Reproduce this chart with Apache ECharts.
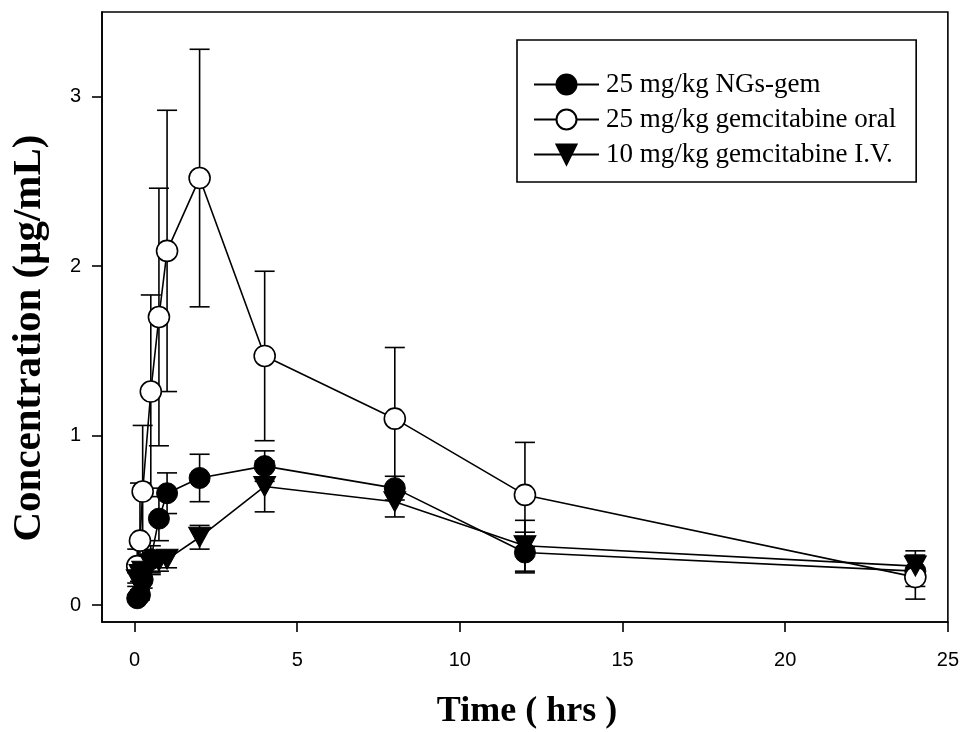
<!DOCTYPE html>
<html>
<head>
<meta charset="utf-8">
<script src="https://cdn.jsdelivr.net/npm/echarts@6/dist/echarts.min.js"></script>
<style>
html,body{margin:0;padding:0;background:#fff;}
#chart{width:962px;height:732px;}
</style>
</head>
<body>
<div id="chart"></div>
<script>
// ---- data ----
const times = [0.083, 0.167, 0.25, 0.5, 0.75, 1, 2, 4, 8, 12, 24];
const ngMean   = [0.04, 0.06, 0.15, 0.27, 0.51, 0.66, 0.75, 0.82, 0.69, 0.31, 0.20];
const ngErr    = [0.02, 0.03, 0.05, 0.08, 0.13, 0.12, 0.14, 0.09, 0.07, 0.12, 0.09];
const oralMean = [0.23, 0.38, 0.67, 1.26, 1.70, 2.09, 2.52, 1.47, 1.10, 0.65, 0.165];
const oralErr  = [0.10, 0.34, 0.39, 0.57, 0.76, 0.83, 0.76, 0.50, 0.42, 0.31, 0.13];
const ivMean   = [0.15, 0.18, 0.20, 0.24, 0.26, 0.27, 0.40, 0.70, 0.61, 0.35, 0.23];
const ivErr    = [0.04, 0.04, 0.05, 0.06, 0.06, 0.05, 0.07, 0.15, 0.09, 0.15, 0.09];
const seriesNames = ['25 mg/kg NGs-gem', '25 mg/kg gemcitabine oral', '10 mg/kg gemcitabine I.V.'];
const xTicks = [0, 5, 10, 15, 20, 25];
const yTicks = [0, 1, 2, 3];
const xTitle = 'Time ( hrs )';
const yTitle = 'Concentration (μg/mL)';

const pts = (m) => times.map((t, i) => [t, m[i]]);
const errPts = (m, e) => times.map((t, i) => [t, m[i] - e[i], m[i] + e[i]]);

function errRender(params, api) {
  const x = api.value(0), lo = api.value(1), hi = api.value(2);
  const a = api.coord([x, hi]), b = api.coord([x, lo]);
  const hw = 10;
  const st = {stroke: '#000', lineWidth: 1.6};
  return {type: 'group', children: [
    {type: 'line', shape: {x1: a[0], y1: a[1], x2: b[0], y2: b[1]}, style: st},
    {type: 'line', shape: {x1: a[0] - hw, y1: a[1], x2: a[0] + hw, y2: a[1]}, style: st},
    {type: 'line', shape: {x1: b[0] - hw, y1: b[1], x2: b[0] + hw, y2: b[1]}, style: st}
  ]};
}

const chart = echarts.init(document.getElementById('chart'), null, {renderer: 'canvas'});
const axisFont = {fontFamily: 'Liberation Sans', fontSize: 20, color: '#000'};
const lineStyle = {color: '#000', width: 1.6};

chart.setOption({
  animation: false,
  backgroundColor: '#fff',
  grid: {left: 102, right: 11, top: 12, bottom: 110, show: true, borderColor: '#000', borderWidth: 1.6, backgroundColor: 'transparent'},
  xAxis: {
    type: 'value', min: -1, max: 25,
    axisLine: {show: true, onZero: false, lineStyle: {color: '#000', width: 1.6}},
    axisTick: {show: true, length: 10, lineStyle: {color: '#000', width: 1.6}, customValues: xTicks},
    axisLabel: Object.assign({margin: 28, customValues: xTicks}, axisFont),
    splitLine: {show: false}
  },
  yAxis: {
    type: 'value', min: -0.1, max: 3.5,
    axisLine: {show: true, onZero: false, lineStyle: {color: '#000', width: 1.6}},
    axisTick: {show: true, length: 10, lineStyle: {color: '#000', width: 1.6}, customValues: yTicks},
    axisLabel: Object.assign({margin: 21, customValues: yTicks}, axisFont),
    splitLine: {show: false}
  },
  legend: {
    orient: 'vertical', left: 517, top: 40,
    padding: [31, 20, 14, 16],
    itemWidth: 65, itemHeight: 25, itemGap: 8,
    borderColor: '#000', borderWidth: 1.6, borderRadius: 0,
    backgroundColor: '#fff',
    textStyle: {fontFamily: 'Liberation Serif', fontSize: 27, color: '#000', padding: [0, 0, 0, 2]},
    data: seriesNames
  },
  graphic: [
    {type: 'text', x: 527, y: 712, style: {text: xTitle, font: 'bold 36px "Liberation Serif"', fill: '#000', align: 'center', verticalAlign: 'middle'}},
    {type: 'text', x: 29, y: 338, rotation: Math.PI / 2, style: {text: yTitle, font: 'bold 41px "Liberation Serif"', fill: '#000', align: 'center', verticalAlign: 'middle'}}
  ],
  series: [
    {type: 'custom', name: 'errNG', renderItem: errRender, data: errPts(ngMean, ngErr), z: 1, silent: true},
    {type: 'custom', name: 'errOral', renderItem: errRender, data: errPts(oralMean, oralErr), z: 1, silent: true},
    {type: 'custom', name: 'errIV', renderItem: errRender, data: errPts(ivMean, ivErr), z: 1, silent: true},
    {type: 'line', name: seriesNames[0], data: pts(ngMean), z: 3, symbol: 'circle', symbolSize: 21,
      lineStyle: lineStyle, itemStyle: {color: '#000', borderColor: '#000', borderWidth: 1}},
    {type: 'line', name: seriesNames[1], data: pts(oralMean), z: 4, symbol: 'circle', symbolSize: 21,
      lineStyle: lineStyle, itemStyle: {color: '#fff', borderColor: '#000', borderWidth: 1.6}},
    {type: 'line', name: seriesNames[2], data: pts(ivMean), z: 5, symbol: 'triangle', symbolSize: [22, 20], symbolRotate: 180,
      lineStyle: lineStyle, itemStyle: {color: '#000', borderColor: '#000', borderWidth: 1}}
  ]
});
</script>
</body>
</html>
